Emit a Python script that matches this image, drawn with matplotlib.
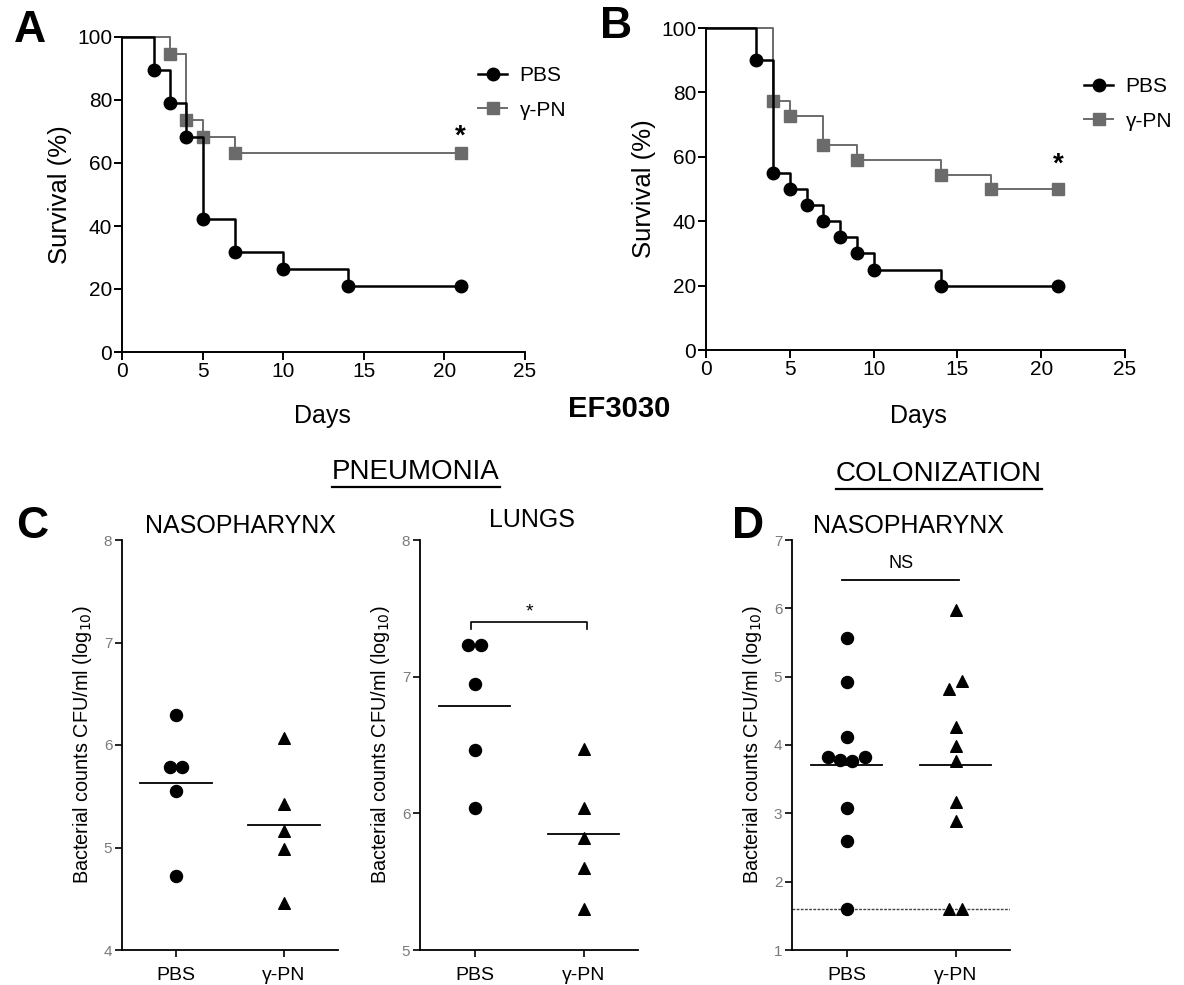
import matplotlib
matplotlib.use("Agg")
import matplotlib.pyplot as plt
import numpy as np
from matplotlib.lines import Line2D

plt.rcParams['font.family'] = ['Liberation Sans', 'DejaVu Sans']

# --- survival data (Kaplan-Meier steps) ---
a_days_pbs = [0, 2, 3, 4, 5, 7, 10, 14, 21]
a_surv_pbs = [100, 89.5, 78.9, 68.4, 42.1, 31.6, 26.3, 21.1, 21.1]
a_days_pn = [0, 3, 4, 5, 7, 21]
a_surv_pn = [100, 94.7, 73.7, 68.4, 63.2, 63.2]

b_days_pbs = [0, 3, 4, 5, 6, 7, 8, 9, 10, 14, 21]
b_surv_pbs = [100, 90, 55, 50, 45, 40, 35, 30, 25, 20, 20]
b_days_pn = [0, 4, 5, 7, 9, 14, 17, 21]
b_surv_pn = [100, 77.3, 72.7, 63.6, 59.1, 54.5, 50, 50]

# --- bacterial counts (log10 CFU/ml) ---
groups = ['PBS', 'γ-PN']
cn_pbs = [6.29, 5.79, 5.79, 5.55, 4.72]
cn_pbs_dx = [0, -0.06, 0.06, 0, 0]
cn_pn = [6.07, 5.42, 5.16, 4.99, 4.46]
cn_pn_dx = [0, 0, 0, 0, 0]

cl_pbs = [7.23, 7.23, 6.95, 6.46, 6.04]
cl_pbs_dx = [-0.06, 0.06, 0, 0, 0]
cl_pn = [6.47, 6.04, 5.82, 5.60, 5.30]
cl_pn_dx = [0, 0, 0, 0, 0]

dn_pbs = [5.57, 4.92, 4.11, 3.82, 3.78, 3.76, 3.82, 3.08, 2.60, 1.60]
dn_pbs_dx = [0, 0, 0, -0.17, -0.06, 0.055, 0.17, 0, 0, 0]
dn_pn = [5.98, 4.82, 4.94, 4.27, 3.99, 3.77, 3.16, 2.89, 1.60, 1.60]
dn_pn_dx = [0, -0.06, 0.06, 0, 0, 0, 0, 0, -0.06, 0.06]
detect_limit = 1.6

W, H = 1184, 985
fig = plt.figure(figsize=(W / 100, H / 100), dpi=100)


def box(left, top, right, bottom):
    # pixel box -> figure fraction
    return [left / W, 1 - bottom / H, (right - left) / W, (bottom - top) / H]


def ftext(x, y, s, **kw):
    return fig.text(x / W, 1 - y / H, s, **kw)


GRAY = '#6b6b6b'


def survival(ax, dp, sp, dn, sn, star_y):
    ax.plot(dn, sn, drawstyle='steps-post', color=GRAY, lw=1.4, marker='s', ms=8.5,
            markevery=list(range(1, len(dn))), clip_on=False, label='γ-PN')
    ax.plot(dp, sp, drawstyle='steps-post', color='black', lw=1.8, marker='o', ms=9,
            markevery=list(range(1, len(dp))), clip_on=False, label='PBS')
    ax.set_xlim(0, 25)
    ax.set_ylim(0, 100)
    ax.set_xticks(range(0, 26, 5))
    ax.set_yticks(range(0, 101, 20))
    for s in ['top', 'right']:
        ax.spines[s].set_visible(False)
    for s in ['left', 'bottom']:
        ax.spines[s].set_linewidth(1.4)
    ax.tick_params(labelsize=15, length=6, width=1.4, pad=1)
    ax.set_ylabel('Survival (%)', fontsize=18.5, labelpad=4)
    ax.text(dn[-1], star_y, '*', ha='center', va='center', fontsize=20, fontweight='bold')


axA = fig.add_axes(box(122, 37, 525, 352))
survival(axA, a_days_pbs, a_surv_pbs, a_days_pn, a_surv_pn, 68.5)
axB = fig.add_axes(box(706, 28, 1125, 350))
survival(axB, b_days_pbs, b_surv_pbs, b_days_pn, b_surv_pn, 57.5)

for ax, x0, y0 in [(axA, 478, 66), (axB, 1084, 77)]:
    h, l = ax.get_legend_handles_labels()
    ax.legend(h[::-1], l[::-1], loc='upper left',
              bbox_to_anchor=(x0 / W, 1 - y0 / H), bbox_transform=fig.transFigure,
              frameon=False, fontsize=15, handlelength=1.4, handletextpad=0.6,
              labelspacing=0.75, borderpad=0, borderaxespad=0, numpoints=1)

ftext(322, 416, 'Days', ha='center', va='center', fontsize=18)
ftext(918, 416, 'Days', ha='center', va='center', fontsize=18)
ftext(619, 409, 'EF3030', ha='center', va='center', fontsize=21, fontweight='bold')


def counts(ax, pbs, pbs_dx, pn, pn_dx, ylim):
    ax.scatter(np.array(pbs_dx), pbs, marker='o', s=75, color='black', zorder=3, clip_on=False)
    ax.scatter(1 + np.array(pn_dx), pn, marker='^', s=70, color='black', zorder=3, clip_on=False)
    for i, vals in enumerate([pbs, pn]):
        m = np.mean(vals)
        ax.plot([i - 0.33, i + 0.33], [m, m], color='black', lw=1.3)
    ax.set_xlim(-0.5, 1.5)
    ax.set_ylim(*ylim)
    ax.set_yticks(range(ylim[0], ylim[1] + 1))
    ax.set_xticks([0, 1])
    ax.set_xticklabels(groups, fontsize=14)
    for s in ['top', 'right']:
        ax.spines[s].set_visible(False)
    for s in ['left', 'bottom']:
        ax.spines[s].set_linewidth(1.3)
    ax.tick_params(axis='y', labelsize=11, labelcolor='#7a7a7a', length=5, width=1.2, pad=2)
    ax.tick_params(axis='x', length=5, width=1.2, pad=7)
    ax.set_ylabel('Bacterial counts CFU/ml (log$_{10}$)', fontsize=14.3, labelpad=7)


axC1 = fig.add_axes(box(122, 540, 338, 950))
counts(axC1, cn_pbs, cn_pbs_dx, cn_pn, cn_pn_dx, (4, 8))
axC2 = fig.add_axes(box(420, 540, 638, 950))
counts(axC2, cl_pbs, cl_pbs_dx, cl_pn, cl_pn_dx, (5, 8))
axC2.plot([-0.03, -0.03, 1.03, 1.03], [7.35, 7.40, 7.40, 7.35], color='black', lw=1.2)
axC2.text(0.5, 7.47, '*', ha='center', va='center', fontsize=14)
axD = fig.add_axes(box(792, 540, 1010, 950))
counts(axD, dn_pbs, dn_pbs_dx, dn_pn, dn_pn_dx, (1, 7))
axD.axhline(detect_limit, color='#444444', lw=1.0, ls=(0, (2, 1)), zorder=1)
axD.plot([-0.04, 1.03], [6.42, 6.42], color='black', lw=1.3)
axD.text(0.5, 6.65, 'NS', ha='center', va='center', fontsize=13)

# panel titles
for x, y, s in [(240, 526, 'NASOPHARYNX'), (532, 520, 'LUNGS'), (908, 526, 'NASOPHARYNX')]:
    ftext(x, y, s, ha='center', va='center', fontsize=18)

# section headers, underlined
fig.canvas.draw()
renderer = fig.canvas.get_renderer()
for x, y, s in [(416, 472, 'PNEUMONIA'), (939, 474, 'COLONIZATION')]:
    t = ftext(x, y, s, ha='center', va='center', fontsize=20)
    bb = t.get_window_extent(renderer)
    fig.add_artist(Line2D([bb.x0 / W, bb.x1 / W], [(bb.y0 - 2) / H, (bb.y0 - 2) / H],
                          transform=fig.transFigure, color='black', lw=1.6))

for x, y, s in [(30, 30, 'A'), (616, 26, 'B'), (32, 526, 'C'), (748, 526, 'D')]:
    ftext(x, y, s, ha='center', va='center', fontsize=32, fontweight='bold')

fig.savefig('out.png', dpi=100)
